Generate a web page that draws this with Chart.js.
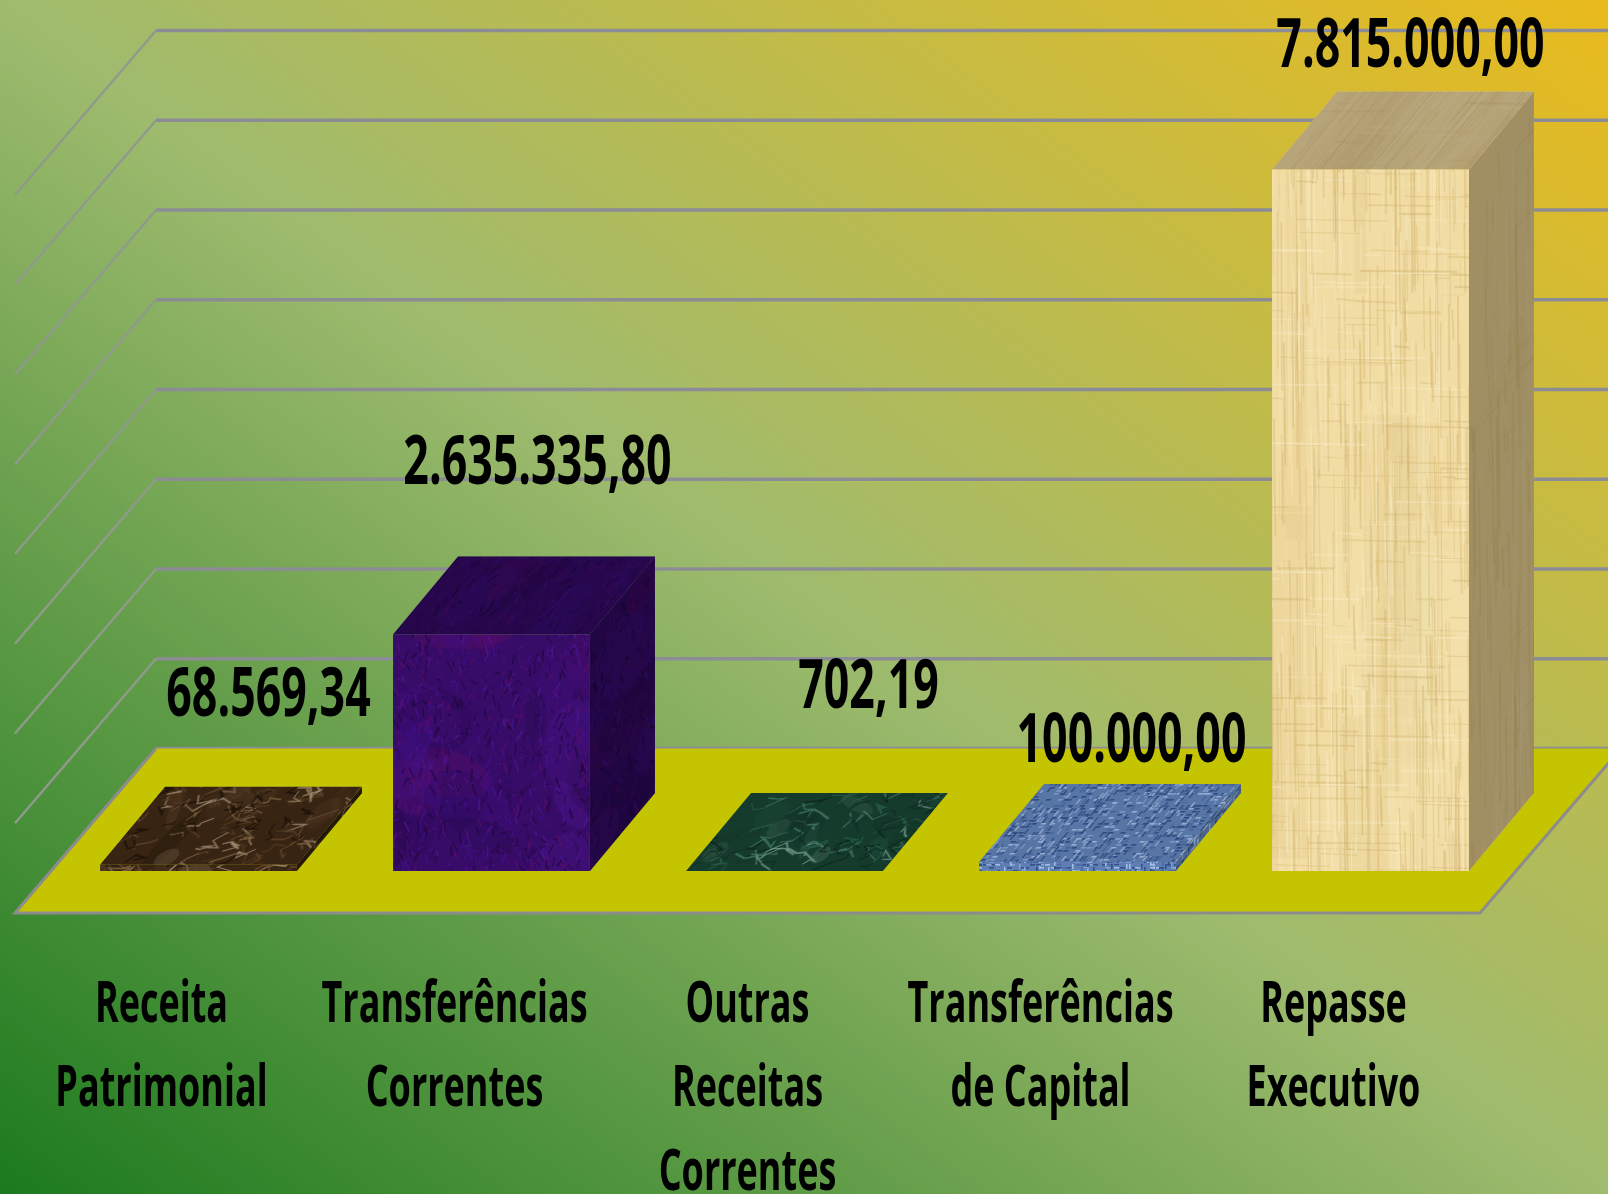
<!DOCTYPE html>
<html lang="pt-BR">
<head>
    <meta charset="UTF-8">
    <title>Receitas</title>
    <script src="https://cdn.jsdelivr.net/npm/chart.js"></script>
    <style>
        html, body {
            margin: 0;
            padding: 0;
            width: 1608px;
            height: 1194px;
            overflow: hidden;
            background: linear-gradient(to top right, #1c7a1e 0%, #9fbb6e 50%, #a8bb64 56%, #d4bb34 86%, #e9ba1c 100%);
        }

        canvas {
            display: block;
            filter: blur(0.6px);
        }
    </style>
</head>
<body>
    <canvas id="grafico" width="1608" height="1194"></canvas>

    <script>
        const categorias = [
            ["Receita", "Patrimonial"],
            ["Transferências", "Correntes"],
            ["Outras", "Receitas", "Correntes"],
            ["Transferências", "de Capital"],
            ["Repasse", "Executivo"]
        ];
        const valores = [68569.34, 2635335.80, 702.19, 100000, 7815000];
        const eixoMax = 8000000;
        const eixoPasso = 1000000;

        // profundidade da caixa 3D e do piso, em pixels
        const barraDx = 65, barraDy = 78;
        const pisoFrente = 42, pisoFundo = 122.5, pisoDesvio = 37, pisoDx = 141;

        // ajuste manual dos rótulos de valor (cada um foi movido à mão no original)
        const rotuloDesvio = [[70, -168], [46, -170], [84, -182], [54, -120], [40, -122]];

        // gerador simples só para a textura das barras
        function sorteador(semente) {
            return function () {
                semente = (semente * 16807) % 2147483647;
                return semente / 2147483647;
            };
        }

        function textura(semente, base, cores, tipo) {
            const alt = 1194;
            const c = document.createElement("canvas");
            c.width = 512;
            c.height = alt;
            const g = c.getContext("2d");
            const r = sorteador(semente);
            g.fillStyle = base;
            g.fillRect(0, 0, 512, alt);
            if (tipo === "trama") {
                for (let i = 0; i < 34000; i++) {
                    g.fillStyle = cores[Math.floor(r() * cores.length)];
                    const x = Math.floor(r() * 171) * 3, y = Math.floor(r() * 398) * 3;
                    if (r() < 0.5) g.fillRect(x, y, 5, 1.6);
                    else g.fillRect(x, y, 1.6, 5);
                }
            } else if (tipo === "fibra") {
                for (let i = 0; i < 60; i++) {
                    g.globalAlpha = 0.14;
                    g.fillStyle = cores[Math.floor(r() * cores.length)];
                    g.fillRect(r() * 512, r() * alt, 10 + r() * 50, 200 + r() * 400);
                }
                g.globalAlpha = 0.4;
                for (let i = 0; i < 2800; i++) {
                    g.strokeStyle = cores[Math.floor(r() * cores.length)];
                    g.lineWidth = 0.6 + r() * 1.6;
                    g.beginPath();
                    const x = r() * 512, y = r() * alt, l = 20 + r() * 150;
                    g.moveTo(x, y);
                    if (i % 4 === 0) g.lineTo(x + l * 0.6, y + r() * 2);
                    else g.lineTo(x + r() * 2, y + l);
                    g.stroke();
                }
            } else if (tipo === "ruido") {
                for (let i = 0; i < 200; i++) {
                    g.fillStyle = cores[Math.floor(r() * cores.length)];
                    g.globalAlpha = 0.18 + r() * 0.2;
                    g.beginPath();
                    g.ellipse(r() * 512, r() * alt, 10 + r() * 26, 18 + r() * 36, r() * 3, 0, 7);
                    g.fill();
                }
                g.globalAlpha = 0.7;
                for (let i = 0; i < 11000; i++) {
                    g.strokeStyle = cores[Math.floor(r() * cores.length)];
                    g.lineWidth = 0.8 + r() * 1.4;
                    g.beginPath();
                    const x = r() * 512, y = r() * alt;
                    g.moveTo(x, y);
                    g.lineTo(x + (r() - 0.5) * 12, y + (r() - 0.5) * 24);
                    g.stroke();
                }
            } else {
                for (let i = 0; i < 470; i++) {
                    g.fillStyle = cores[Math.floor(r() * cores.length)];
                    g.globalAlpha = 0.08 + r() * 0.14;
                    g.beginPath();
                    g.ellipse(r() * 512, r() * alt, 6 + r() * 24, 3 + r() * 10, r() * 3, 0, 7);
                    g.fill();
                }
                g.globalAlpha = 0.75;
                for (let i = 0; i < 3700; i++) {
                    g.strokeStyle = cores[Math.floor(r() * cores.length)];
                    g.lineWidth = 0.7 + r() * 1.2;
                    g.beginPath();
                    let x = r() * 512, y = r() * alt;
                    g.moveTo(x, y);
                    for (let k = 0; k < 3; k++) {
                        x += (r() - 0.5) * 30;
                        y += (r() - 0.5) * 18;
                        g.lineTo(x, y);
                    }
                    g.stroke();
                }
            }
            return g.createPattern(c, "repeat");
        }

        const ctxPrincipal = document.getElementById("grafico").getContext("2d");
        const texturas = [
            textura(11, "#3a2614", ["#8a6c4c", "#6a4c30", "#1a0f07", "#5a3f26", "#b09a7c"], "marmore"),
            textura(23, "#370c68", ["#4e1690", "#220740", "#5a0d66", "#280950", "#40118a"], "ruido"),
            textura(37, "#173f2f", ["#4c8470", "#0c241b", "#2c6650", "#12302a", "#82ab9b"], "marmore"),
            textura(41, "#5f7fb4", ["#34528a", "#86a4d6", "#4c6ca3", "#34528a", "#a4bce2"], "trama"),
            textura(59, "#f1dca4", ["#d8ba72", "#fbeec8", "#d0b26c", "#f5e2ae"], "fibra")
        ];
        const sombraLado = ["rgba(0,0,0,.35)", "rgba(10,0,30,.5)", "rgba(0,0,0,.35)", "rgba(0,0,0,.2)", "rgba(110,95,60,.62)"];
        const sombraTopo = ["rgba(0,0,0,.05)", "rgba(10,0,30,.38)", "rgba(0,0,0,.05)", "rgba(0,0,0,.08)", "rgba(120,105,75,.48)"];

        function face(ctx, pontos, textura, sombra, a, b) {
            ctx.save();
            ctx.beginPath();
            pontos.forEach(function (p, i) {
                if (i === 0) ctx.moveTo(p[0], p[1]);
                else ctx.lineTo(p[0], p[1]);
            });
            ctx.closePath();
            ctx.clip();
            ctx.save();
            ctx.translate(pontos[0][0], pontos[0][1]);
            ctx.transform(1, a, b, 1, 0, 0);
            ctx.fillStyle = textura;
            ctx.fillRect(-1000, -1000, 3000, 3000);
            ctx.restore();
            ctx.fillStyle = sombra;
            ctx.fillRect(0, 0, 1608, 1194);
            ctx.restore();
        }

        // texto esticado como na imagem original
        function textoEsticado(ctx, texto, x, y, fonte, sx, sy) {
            ctx.save();
            ctx.translate(x, y);
            ctx.scale(sx, sy);
            ctx.font = fonte;
            ctx.fillStyle = "#000";
            ctx.textAlign = "center";
            ctx.textBaseline = "middle";
            ctx.fillText(texto, 0, 0);
            ctx.restore();
        }

        const cenario = {
            id: "cenario",
            beforeDatasetsDraw(chart) {
                const ctx = chart.ctx;
                const area = chart.chartArea;
                const y = chart.scales.y;
                const esq = area.left - pisoDesvio;
                const dir = area.right - pisoDesvio;
                const fundoEsq = esq + pisoDx;

                // linhas de grade: parede do fundo e parede lateral
                ctx.save();
                ctx.lineCap = "butt";
                y.ticks.forEach(function (t) {
                    const py = y.getPixelForValue(t.value);
                    ctx.strokeStyle = "#8c8c96";
                    ctx.lineWidth = 3.5;
                    ctx.beginPath();
                    ctx.moveTo(fundoEsq, py - pisoFundo);
                    ctx.lineTo(1608, py - pisoFundo);
                    ctx.stroke();
                    ctx.lineWidth = 2.5;
                    ctx.strokeStyle = "#8f9a8c";
                    ctx.beginPath();
                    ctx.moveTo(fundoEsq, py - pisoFundo);
                    ctx.lineTo(esq, py + pisoFrente);
                    ctx.stroke();
                });

                // piso
                const base = y.getPixelForValue(0);
                ctx.beginPath();
                ctx.moveTo(esq, base + pisoFrente);
                ctx.lineTo(dir, base + pisoFrente);
                ctx.lineTo(dir + pisoDx, base - pisoFundo);
                ctx.lineTo(fundoEsq, base - pisoFundo);
                ctx.closePath();
                ctx.fillStyle = "#c5c400";
                ctx.fill();
                ctx.strokeStyle = "#8c8c8c";
                ctx.lineWidth = 3;
                ctx.beginPath();
                ctx.moveTo(fundoEsq, base - pisoFundo);
                ctx.lineTo(esq, base + pisoFrente);
                ctx.lineTo(dir, base + pisoFrente);
                ctx.lineTo(dir + pisoDx, base - pisoFundo);
                ctx.stroke();
                ctx.restore();

                // topo e lateral de cada barra
                chart.getDatasetMeta(0).data.forEach(function (barra, i) {
                    const e = barra.x - barra.width / 2;
                    const d = barra.x + barra.width / 2;
                    face(ctx, [[d, barra.y], [d + barraDx, barra.y - barraDy], [d + barraDx, barra.base - barraDy], [d, barra.base]],
                        texturas[i], sombraLado[i], -barraDy / barraDx, 0);
                    face(ctx, [[e, barra.y], [e + barraDx, barra.y - barraDy], [d + barraDx, barra.y - barraDy], [d, barra.y]],
                        texturas[i], sombraTopo[i], 0, -barraDx / barraDy);
                });
            },
            afterDatasetsDraw(chart) {
                const ctx = chart.ctx;
                const x = chart.scales.x;
                const fmt = new Intl.NumberFormat("pt-BR", { minimumFractionDigits: 2, maximumFractionDigits: 2 });

                chart.getDatasetMeta(0).data.forEach(function (barra, i) {
                    textoEsticado(ctx, fmt.format(valores[i]), barra.x + rotuloDesvio[i][0], barra.y + rotuloDesvio[i][1],
                        "bold 60px 'Open Sans'", 0.745, 1.14);
                });

                categorias.forEach(function (linhas, i) {
                    const cx = x.getPixelForTick(i) - pisoDesvio;
                    linhas.forEach(function (linha, k) {
                        textoEsticado(ctx, linha, cx, 1006 + k * 84, "bold 60px 'Open Sans'", 0.6, 0.96);
                    });
                });
            }
        };

        new Chart(ctxPrincipal, {
            type: "bar",
            data: {
                labels: categorias,
                datasets: [{
                    data: valores,
                    backgroundColor: texturas,
                    borderWidth: 0,
                    barPercentage: 0.672,
                    categoryPercentage: 1
                }]
            },
            options: {
                responsive: false,
                animation: false,
                layout: { padding: { left: 52, right: 91, top: 153, bottom: 323 } },
                plugins: {
                    legend: { display: false },
                    tooltip: { enabled: false }
                },
                scales: {
                    x: { display: false },
                    y: { display: false, min: 0, max: eixoMax, ticks: { stepSize: eixoPasso } }
                }
            },
            plugins: [cenario]
        });
    </script>
</body>
</html>
